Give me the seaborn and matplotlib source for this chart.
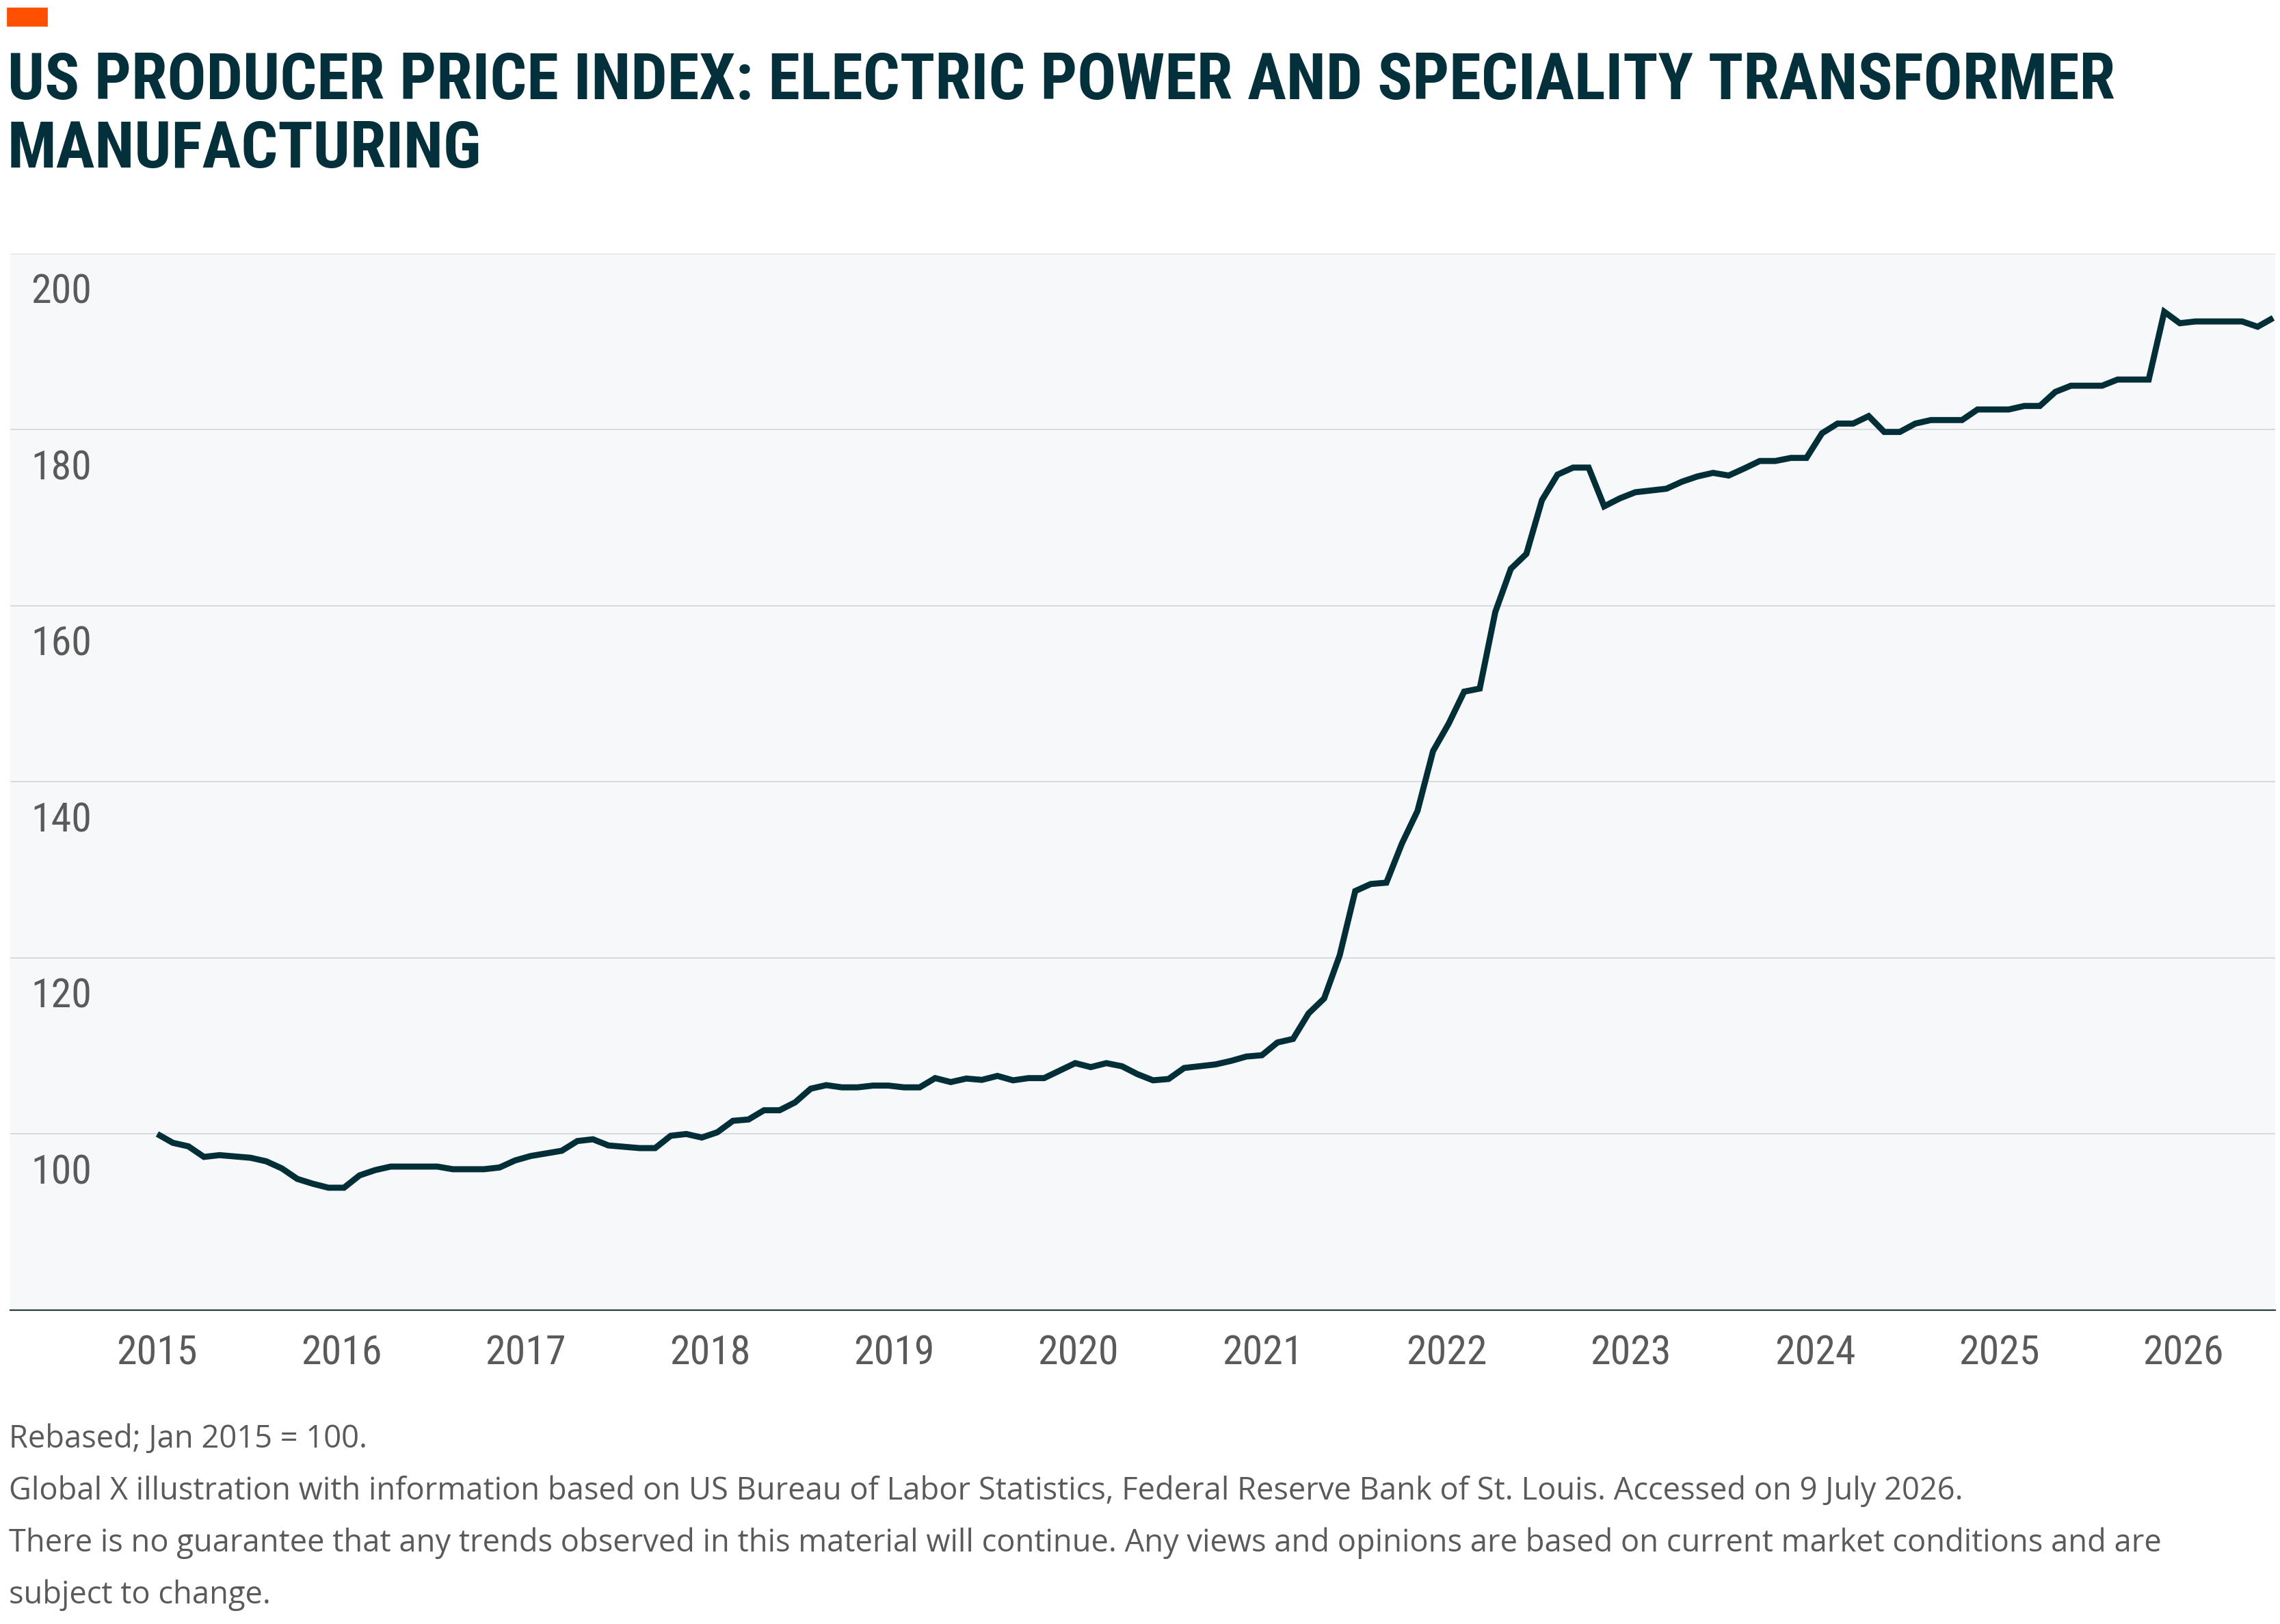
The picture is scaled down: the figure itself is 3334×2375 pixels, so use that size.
import os
import numpy as np
import pandas as pd
import matplotlib
matplotlib.use("Agg")
import matplotlib.pyplot as plt
import seaborn as sns
from matplotlib import font_manager
from matplotlib.font_manager import FontProperties
from matplotlib.patches import Rectangle
from matplotlib.transforms import offset_copy

# ---------------------------------------------------------------------
# Data (monthly, Jan 2015 = 100)
# ---------------------------------------------------------------------
title_lines = [
    "US PRODUCER PRICE INDEX: ELECTRIC POWER AND SPECIALITY TRANSFORMER",
    "MANUFACTURING",
]
notes = [
    "Rebased; Jan 2015 = 100.",
    "Global X illustration with information based on US Bureau of Labor Statistics, "
    "Federal Reserve Bank of St. Louis. Accessed on 9 July 2026.",
    "There is no guarantee that any trends observed in this material will continue. "
    "Any views and opinions are based on current market conditions and are",
    "subject to change.",
]
years = [str(y) for y in range(2015, 2027)]
y_ticks = [100, 120, 140, 160, 180, 200]

ppi = [
    100.0, 99.0, 98.6, 97.4, 97.6, 97.45, 97.3, 96.9, 96.1, 94.9, 94.35, 93.9,      # 2015
    93.9, 95.3, 95.9, 96.3, 96.3, 96.3, 96.3, 96.0, 96.0, 96.0, 96.2, 97.0,          # 2016
    97.5, 97.8, 98.1, 99.2, 99.4, 98.7, 98.55, 98.4, 98.4, 99.8, 100.0, 99.6,        # 2017
    100.2, 101.5, 101.65, 102.7, 102.7, 103.6, 105.15, 105.55, 105.3, 105.3, 105.5, 105.5,  # 2018
    105.3, 105.3, 106.35, 105.9, 106.3, 106.15, 106.6, 106.1, 106.35, 106.35, 107.2, 108.05,  # 2019
    107.6, 108.05, 107.7, 106.8, 106.1, 106.25, 107.5, 107.7, 107.9, 108.3, 108.8, 108.95,  # 2020
    110.4, 110.8, 113.7, 115.4, 120.3, 127.6, 128.4, 128.55, 133.0, 136.7, 143.5, 146.6,    # 2021
    150.25, 150.6, 159.3, 164.2, 165.9, 172.0, 174.9, 175.7, 175.7, 171.3, 172.2, 172.9,    # 2022
    173.1, 173.3, 174.1, 174.7, 175.1, 174.8, 175.6, 176.45, 176.45, 176.8, 176.8, 179.6,   # 2023
    180.7, 180.7, 181.55, 179.75, 179.75, 180.7, 181.1, 181.1, 181.1, 182.3, 182.3, 182.3,  # 2024
    182.7, 182.7, 184.3, 185.0, 185.0, 185.0, 185.7, 185.7, 185.7, 193.4, 192.1, 192.3,     # 2025
    192.3, 192.3, 192.3, 191.7, 192.7,                                                       # 2026
]

months = pd.date_range("2015-01-01", periods=len(ppi), freq="MS")
df = pd.DataFrame({"month": months, "pos": np.arange(len(ppi)), "ppi": ppi})

# year labels in the source sit a little tighter than 12 monthly steps apart
year_step = 11.84
year_pos = np.arange(len(years)) * year_step


# ---------------------------------------------------------------------
# Fonts: look for a narrow / condensed face for title and ticks
# ---------------------------------------------------------------------
def find_condensed(bold):
    keys = ["liberationsansnarrow", "robotocondensed", "opensanscondensed",
            "notosanscondensed", "dejavusanscondensed", "archivonarrow"]
    other_weights = ["light", "thin", "medium", "black", "semi", "extra", "italic",
                     "oblique", "heavy"]
    files = [f.fname for f in font_manager.fontManager.ttflist]
    for key in keys:
        for path in files:
            base = os.path.basename(path).lower()
            for ch in "-_ ":
                base = base.replace(ch, "")
            if key not in base or any(w in base for w in other_weights):
                continue
            if bold == ("bold" in base):
                return path
    return None


bold_path = find_condensed(True)
reg_path = find_condensed(False)
title_fp = FontProperties(fname=bold_path) if bold_path else FontProperties(family="DejaVu Sans", weight="bold")
tick_fp = FontProperties(fname=reg_path) if reg_path else FontProperties(family="DejaVu Sans")
title_fp.set_size(33.5)
tick_fp.set_size(21.6)

sns.set_theme(style="white")
plt.rcParams["font.family"] = ["Open Sans", "Liberation Sans", "DejaVu Sans"]

dark = "#03303a"
grey_txt = "#5a5a5a"

fig = plt.figure(figsize=(16.67, 11.875), dpi=200)
ax = fig.add_axes([0.0045, 0.1933, 0.9934, 0.6505])
ax.set_facecolor("#f6f8fa")

sns.lineplot(data=df, x="pos", y="ppi", ax=ax, color="#022e37", linewidth=3.2,
             solid_joinstyle="miter", solid_capstyle="butt")

ax.set_xlim(-9.45, 136.13)
ax.set_ylim(80, 200)
ax.set_xlabel("")
ax.set_ylabel("")

# grid + axis line
ax.set_yticks([80] + y_ticks)
ax.yaxis.grid(True, color="#d5d7da", linewidth=0.65)
ax.xaxis.grid(False)
ax.tick_params(axis="y", left=False, labelleft=False)
for side in ["left", "right", "top"]:
    ax.spines[side].set_visible(False)
ax.spines["bottom"].set_color("#2c3b3d")
ax.spines["bottom"].set_linewidth(0.8)

# x labels
ax.set_xticks(year_pos, labels=years)
ax.tick_params(axis="x", length=0, pad=12.5, labelcolor=grey_txt)
for lab in ax.get_xticklabels():
    lab.set_fontproperties(tick_fp)

# y labels sit inside the plot, just under each gridline
ylab_tr = offset_copy(ax.get_yaxis_transform(), fig=fig, y=-73 * 72 / 200, units="points")
for v in y_ticks:
    ax.text(0.0091, v, str(v), transform=ylab_tr, ha="left", va="baseline",
            fontproperties=tick_fp, color=grey_txt)

# ---------------------------------------------------------------------
# Title, marker and notes
# ---------------------------------------------------------------------
fig.patches.append(Rectangle((11 / 3334, 1 - 37 / 2375), 57 / 3334, 25 / 2375,
                             transform=fig.transFigure, color="#fe5000"))

title_texts = []
for i, line in enumerate(title_lines):
    t = fig.text(11 / 3334, 1 - (145 + 100 * i) / 2375, line, ha="left", va="baseline",
                 fontproperties=title_fp, color=dark)
    title_texts.append(t)

# fit the first title line to the width it has in the source (~3080 px)
renderer = fig.canvas.get_renderer()
w = title_texts[0].get_window_extent(renderer).width
new_size = 33.5 * 3080 / w
for t in title_texts:
    t.set_fontsize(min(new_size, 34.5))

for i, line in enumerate(notes):
    fig.text(13 / 3334, 1 - (2117 + 76 * i) / 2375, line, ha="left", va="baseline",
             fontsize=16.3, color=grey_txt)

plt.savefig("out.png", dpi=200)
